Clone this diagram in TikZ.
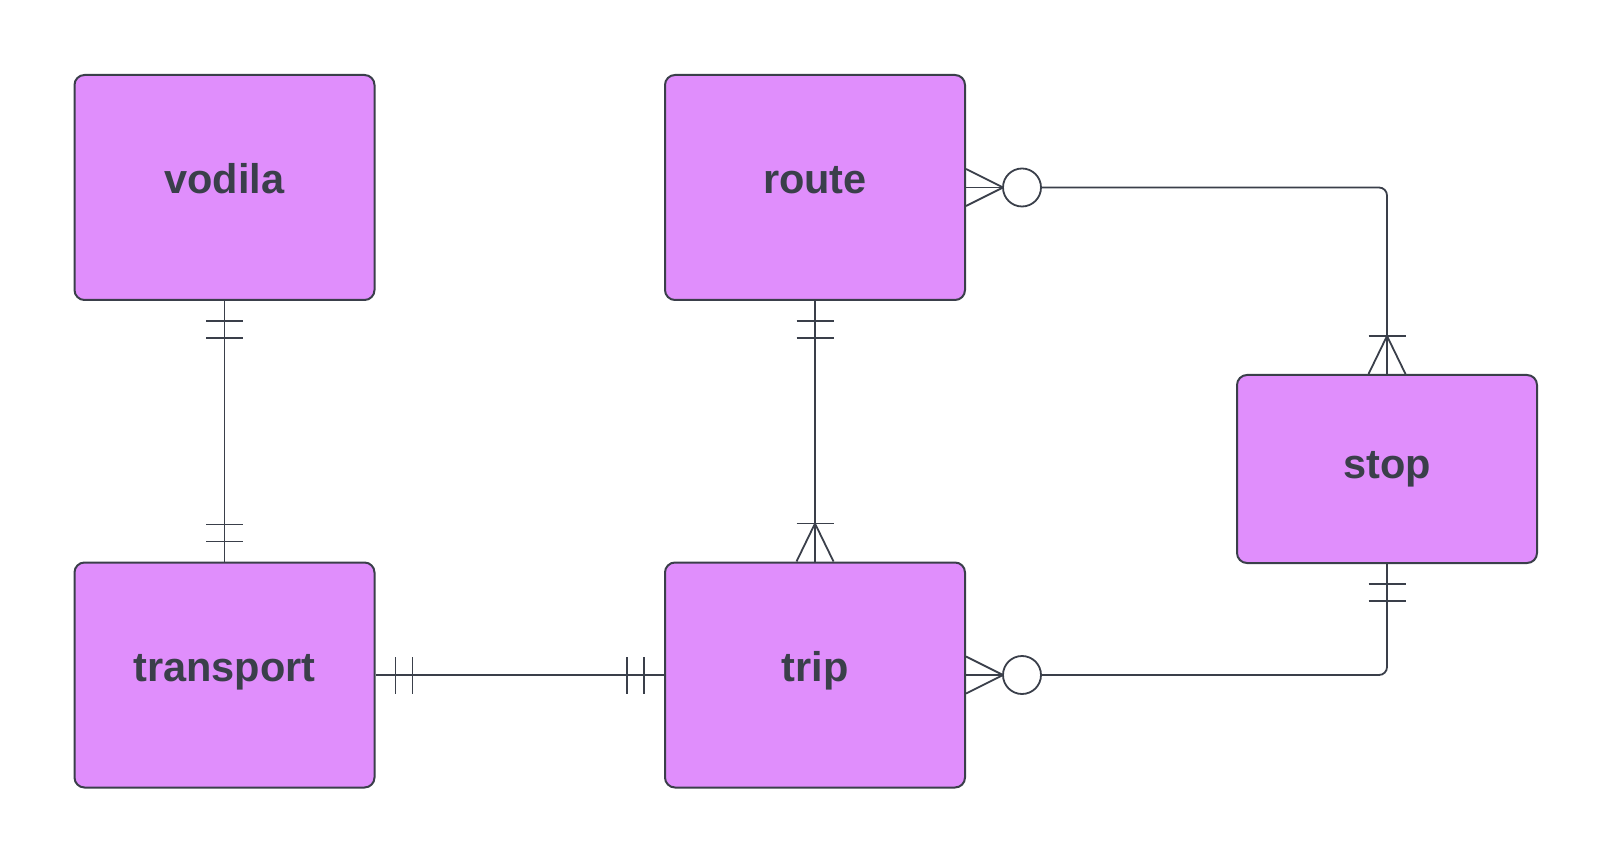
\documentclass[tikz,border=0pt]{standalone}
\usepackage{fontspec}
\setmainfont{Liberation Sans}
\usetikzlibrary{positioning}

\definecolor{entfill}{RGB}{224,142,252}
\definecolor{linegray}{RGB}{58,63,74}

\tikzset{
  entity/.style={draw=linegray, fill=entfill, line width=2pt, rounded corners=10pt,
                 minimum width=300pt, minimum height=225pt, inner sep=0pt,
                 text=linegray, font=\fontsize{41.5}{50}\selectfont\bfseries,
                 text height=29pt, text depth=17pt},
  rel/.style={draw=linegray, line width=1.8pt},
  crow/.style={rel, fill=white}
}

\begin{document}
\begin{tikzpicture}[x=1pt,y=1pt]
  \useasboundingbox (0,0) rectangle (1613,863);

  \node[entity]                   (vodila)    at (224.5,675.5) {vodila};
  \node[entity]                   (route)     at (815,675.5)   {route};
  \node[entity]                   (transport) at (224.5,188)   {transport};
  \node[entity]                   (trip)      at (815,188)     {trip};
  \node[entity,minimum height=188pt,text depth=10pt] (stop) at (1387,394) {stop};

  % connectors
  \path[rel] (vodila) -- (transport)
             (route) -- (trip)
             (transport) -- (trip);
  \path[rel,rounded corners=8pt]
        ([xshift=75pt]route.east) -| (stop.north)
        ([xshift=75pt]trip.east)  -| (stop.south);

  % one and only one
  \foreach \d in {20,37} {
    \draw[rel] ([yshift=-\d pt]vodila.south) +(-18.5,0) -- +(18.5,0);
    \draw[rel] ([yshift=\d pt]transport.north) +(-18.5,0) -- +(18.5,0);
    \draw[rel] ([yshift=-\d pt]route.south) +(-18.5,0) -- +(18.5,0);
    \draw[rel] ([xshift=\d pt]transport.east) +(0,-18.5) -- +(0,18.5);
    \draw[rel] ([xshift=-\d pt]trip.west) +(0,-18.5) -- +(0,18.5);
    \draw[rel] ([yshift=-\d pt]stop.south) +(-18.5,0) -- +(18.5,0);
  }

  % one or many
  \draw[rel] ([xshift=-18.5pt]trip.north) -- ([yshift=38pt]trip.north)
             -- ([xshift=18.5pt]trip.north);
  \draw[rel] ([yshift=38pt]trip.north) +(-18.5,0) -- +(18.5,0);
  \draw[rel] ([xshift=-18.5pt]stop.north) -- ([yshift=38pt]stop.north)
             -- ([xshift=18.5pt]stop.north);
  \draw[rel] ([yshift=38pt]stop.north) +(-18.5,0) -- +(18.5,0);

  % zero or many
  \foreach \n in {route,trip} {
    \draw[rel] ([yshift=18.5pt]\n.east) -- ([xshift=37pt]\n.east)
               -- ([yshift=-18.5pt]\n.east);
    \draw[rel] (\n.east) -- ([xshift=37pt]\n.east);
    \draw[crow] ([xshift=56pt]\n.east) circle (19pt);
  }
\end{tikzpicture}
\end{document}
